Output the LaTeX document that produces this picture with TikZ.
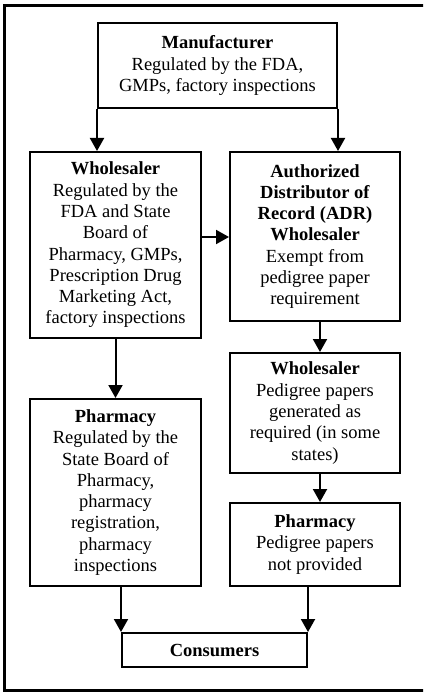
\documentclass[tikz,border=0pt]{standalone}
\usepackage{fontspec}
\setmainfont{Liberation Serif}
\usetikzlibrary{arrows.meta}
\tikzset{
  box/.style={draw, line width=2pt, align=center, inner sep=0pt,
    font=\fontsize{18.5}{21.3}\selectfont},
  arr/.style={line width=2pt, -{Triangle[length=13pt,width=14pt]}},
}
\begin{document}
\begin{tikzpicture}[x=1pt,y=-1pt]
\useasboundingbox (0,0) rectangle (423,692);
\clip (0,0) rectangle (423,692);
\draw[line width=3pt] (440,5.5) -- (4.5,5.5) -- (4.5,690.5) -- (440,690.5);
\node[box, minimum width=239pt, minimum height=85pt] (man) at (217.5,65.5)
  {\textbf{Manufacturer}\\Regulated by the FDA,\\GMPs, factory inspections};
\node[box, minimum width=171pt, minimum height=186pt] (whl) at (115.5,245)
  {\textbf{Wholesaler}\\Regulated by the\\FDA and State\\Board of\\Pharmacy, GMPs,\\Prescription Drug\\Marketing Act,\\factory inspections};
\node[box, minimum width=170pt, minimum height=169pt] (adr) at (315,236.5)
  {\textbf{Authorized}\\\textbf{Distributor of}\\\textbf{Record (ADR)}\\\textbf{Wholesaler}\\Exempt from\\pedigree paper\\requirement};
\node[box, minimum width=171pt, minimum height=187pt] (ph1) at (115.5,492.5)
  {\textbf{Pharmacy}\\Regulated by the\\State Board of\\Pharmacy,\\pharmacy\\registration,\\pharmacy\\inspections};
\node[box, minimum width=170pt, minimum height=120pt] (wh2) at (315,413)
  {\textbf{Wholesaler}\\Pedigree papers\\generated as\\required (in some\\states)};
\node[box, minimum width=170pt, minimum height=83pt] (ph2) at (315,544.5)
  {\textbf{Pharmacy}\\Pedigree papers\\not provided};
\node[box, minimum width=185pt, minimum height=34pt] (con) at (214.5,650)
  {\textbf{Consumers}};
\draw[arr] (man.south west) -- (man.south west |- whl.north);
\draw[arr] (man.south east) -- (man.south east |- adr.north);
\draw[arr] ([yshift=8pt]whl.east) -- ([yshift=8pt]whl.east -| adr.west);
\draw[arr] (whl.south) -- (ph1.north);
\draw[arr] ([xshift=5pt]adr.south) -- ([xshift=5pt]wh2.north);
\draw[arr] ([xshift=5pt]wh2.south) -- ([xshift=5pt]ph2.north);
\draw[arr] (con.north west |- ph1.south) -- (con.north west);
\draw[arr] (con.north east |- ph2.south) -- (con.north east);
\end{tikzpicture}
\end{document}
